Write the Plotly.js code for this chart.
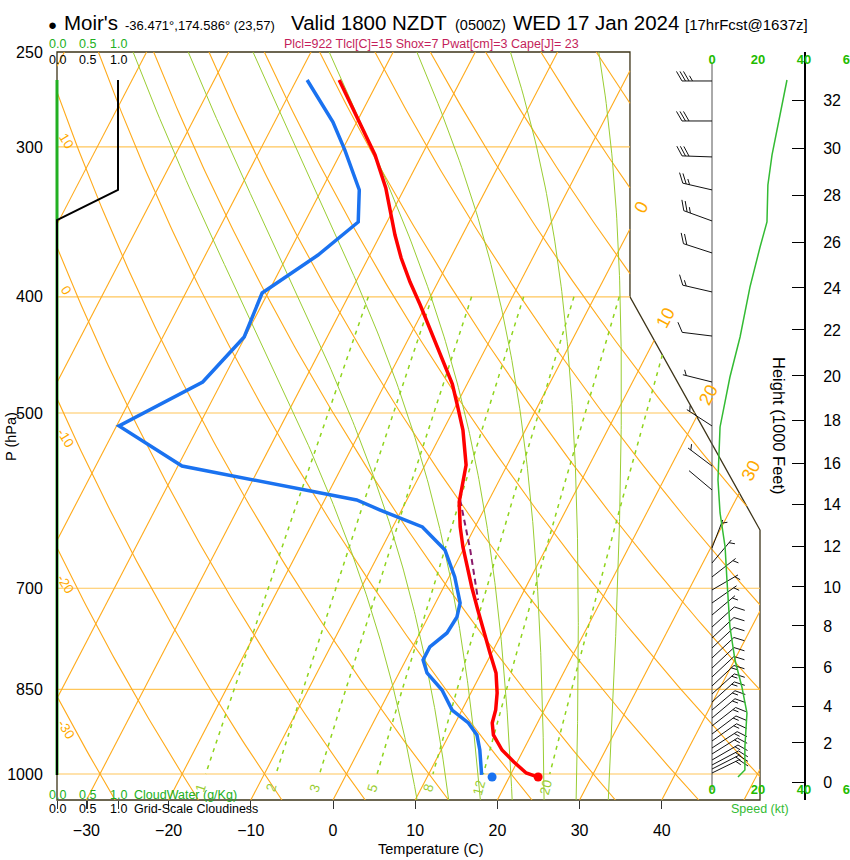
<!DOCTYPE html>
<html><head><meta charset="utf-8">
<script src="https://cdn.plot.ly/plotly-3.0.1.min.js"></script>
<style>html,body{margin:0;padding:0;background:#fff;}#chart{width:850px;height:860px;}</style>
</head><body><div id="chart"></div>
<script>
// ================= DATA =================
const tempP = [263.8,275.7,288.7,304.6,324.6,338.6,355.3,371.3,388.8,406.4,424.7,448.2,472.9,495.2,516.6,552.5,583.0,593.2,622.3,646.7,672.0,698.3,729.9,762.8,792.7,823.7,856.0,884.4,906.7,927.8,955.0,977.2,998.1,1003.8];
const tempT = [-44.8,-42.0,-39.1,-35.7,-32.3,-30.4,-28.2,-26.0,-23.4,-20.7,-18.1,-15.0,-11.8,-9.6,-7.6,-5.0,-3.9,-3.5,-1.8,-0.2,1.6,3.4,5.6,7.8,9.8,11.8,13.2,14.1,14.5,15.4,17.4,19.6,21.8,23.0];
const dewP = [263.8,274.1,286.0,301.7,313.6,325.8,346.5,369.2,397.1,432.1,471.1,512.6,553.6,590.9,602.4,622.3,650.4,685.0,720.1,739.7,762.8,783.6,803.4,823.7,851.0,884.4,906.7,927.8,955.0,1001.9];
const dewT = [-48.7,-45.9,-42.9,-39.7,-37.5,-35.4,-33.5,-36.3,-40.7,-40.1,-42.3,-49.7,-39.5,-16.1,-12.6,-6.4,-2.2,0.7,3.0,3.5,3.3,2.1,2.1,3.4,6.3,8.8,11.6,13.4,14.7,16.5];
const parcelP = [591, 650, 716];
const parcelT = [-3.5, 0.85, 5.0];
const surfaceP = [1005.8];
const surfaceT = [23.5];
const surfaceTd = [17.9];
const speedP = [263.8,304.6,322.7,346.5,363.5,392.6,432.1,466.6,513.6,568.6,605.8,646.7,689.0,720.1,754.1,803.4,846.1,889.5,949.5,992.3,1005.8];
const speedKt = [32.6,26.1,24.3,23.9,20.9,16.5,12.2,7.8,3.5,2.6,3.5,5.7,6.5,7.0,7.8,10.0,13.0,15.2,14.3,14.3,11.3];
const barbP = [264.3,285.4,305.8,325.8,345.8,367.7,396.3,431.3,471.1,512.6,553.6,579.6,647.9,666.9,685.0,702.3,720.1,736.9,754.1,770.2,785.1,800.3,815.9,830.0,844.5,857.6,870.9,884.4,898.1,911.9,926.1,938.6,951.3,962.3,973.5,982.9,990.5,998.1];
const barbDir = [270,270,272,283,290,288,283,277,284,303,307,310,21,40,52,60,55,50,48,47,47,47,47,47,47,48,48,50,50,52,53,55,57,58,60,62,63,64];
const barbSpd = [33,30,28,24,24,20,16,12,7,5,4,2,6,6,6,7,7,7,8,9,9,10,11,12,13,14,14,15,15,15,15,14,14,14,14,14,14,13];
const cloudP = [263.8,325.8,345.2,1001.9];
const cloudFrac = [1.0,1.0,0.0,0.0];
const cloudWaterP = [263.8,1001.9];
const cloudWater = [0,0];
const heightKft = [0,2,4,6,8,10,12,14,16,18,20,22,24,26,28,30,32];
const heightP = [1015.5,942.2,877.6,814.3,752.6,698.3,645.5,595.5,550.4,506.8,465.7,426.3,393.3,360.1,329.0,300.6,274.6];
const pressureTicks = [250,300,400,500,700,850,1000];
const isobarVals = [300,400,500,700,850,1000];
const tempTicks = [-30,-20,-10,0,10,20,30,40];
const speedTicks = [0,20,40,60];
const cloudTicks = [0,0.5,1.0];
const cloudTickText = ['0.0','0.5','1.0'];
const isothermVals = [-80,-70,-60,-50,-40,-30,-20,-10,0,10,20,30,40,50];
const isothermLabelVals = [0,10,20,30];
const dryAdiabatVals = [-30,-20,-10,0,10,20,30,40,50,60,70,80,90,100,110,120];
const dryLabelVals = [-30,-20,-10,0,10];
const moistAdiabatVals = [8,12,16,20,24,28,32];
const mixingVals = [1,2,3,5,8,12,20];

// ================= GEOMETRY =================
const W=850,H=860,ML=40,MR=0,MT=52,MB=60;
const PW=W-ML-MR, PH=H-MT-MB;
const PX_LEFT=57, PX_RIGHT=760;
const X_MIN=-33.58, X_MAX=51.95;
const P_TOP=250, P_BOT=1051.2;
const SKEW=32.95;
const LOG_SPAN=Math.log10(P_BOT)-Math.log10(P_TOP);
const PX_PER_DEC=PH/LOG_SPAN;
const PX_PER_C=(PX_RIGHT-PX_LEFT)/(X_MAX-X_MIN);
const SPD_ZERO_PX=712, SPD_PX_PER_KT=2.3, SPD_DOM_LEFT=650;
const CLOUD_ZERO_PX=57, CLOUD_PX_PER_UNIT=61, CLOUD_DOM_RIGHT=200;
const HEIGHT_AXIS_PX=805;
const frameP=[P_TOP,400,626,P_BOT];
const frameX=[36.13,36.13,X_MAX,X_MAX];

const pxX=x=>PX_LEFT+(x-X_MIN)*PX_PER_C;
const pxY=p=>MT+(Math.log10(p)-Math.log10(P_TOP))*PX_PER_DEC;
const xFromPx=px=>X_MIN+(px-PX_LEFT)/PX_PER_C;
const pFromPy=py=>Math.pow(10,Math.log10(P_TOP)+(py-MT)/PX_PER_DEC);
const paperX=px=>(px-ML)/PW;
const paperY=py=>(MT+PH-py)/PH;
const skewX=(T,p)=>T+SKEW*Math.log(P_BOT/p);

const frameYs=frameP.map(pxY), frameXs=frameX.map(pxX);
function rightPx(py){
  for(let i=0;i<frameYs.length-1;i++){
    if(py<=frameYs[i+1]){const f=(py-frameYs[i])/(frameYs[i+1]-frameYs[i]);return frameXs[i]+f*(frameXs[i+1]-frameXs[i]);}
  }
  return frameXs[frameXs.length-1];
}
function inside(px,py){return py>=MT-0.01&&py<=MT+PH+0.01&&px>=PX_LEFT-0.01&&px<=rightPx(py)+0.01;}
function clip(pts){
  const out=[];let prev=null,prevIn=false;
  for(const a of pts){
    const ain=inside(a[0],a[1]);
    if(prev&&ain!==prevIn){
      let lo=0,hi=1;
      for(let k=0;k<40;k++){const m=(lo+hi)/2;const q=[prev[0]+(a[0]-prev[0])*m,prev[1]+(a[1]-prev[1])*m];if(inside(q[0],q[1])===prevIn)lo=m;else hi=m;}
      const m=prevIn?lo:hi;
      out.push([prev[0]+(a[0]-prev[0])*m,prev[1]+(a[1]-prev[1])*m]);
      if(!ain)out.push(null);
    }
    if(ain)out.push(a);
    prev=a;prevIn=ain;
  }
  if(out.length&&out[out.length-1]!==null)out.push(null);
  return out;
}
function linesTrace(list,style){
  const xs=[],ys=[];
  for(const pts of list){for(const q of clip(pts)){if(q===null){xs.push(null);ys.push(null);}else{xs.push(xFromPx(q[0]));ys.push(pFromPy(q[1]));}}}
  return {type:'scatter',mode:'lines',x:xs,y:ys,xaxis:'x',yaxis:'y',line:style,hoverinfo:'skip',connectgaps:false};
}
function logSpace(a,b,n){const r=[];for(let i=0;i<=n;i++)r.push(Math.pow(10,Math.log10(a)+(Math.log10(b)-Math.log10(a))*i/n));return r;}

// thermodynamics for background reference lines
const dryT=(thC,p)=>(thC+273.15)*Math.pow(p/1000,0.2857)-273.15;
function mixT(w,p){const e=w*p/(622+w);const l=Math.log(e/6.112);return 243.5*l/(17.67-l);}
function dTdp(p,Tk){const Tc=Tk-273.15;const es=6.112*Math.exp(17.67*Tc/(Tc+243.5));const rs=0.622*es/(p-es);
  const Lv=2.501e6,Rd=287.04,Cp=1005.7,eps=0.622;return (Rd*Tk+Lv*rs)/(Cp+Lv*Lv*rs*eps/(Rd*Tk*Tk))/p;}
function rk4(p,T,h){const k1=dTdp(p,T),k2=dTdp(p+h/2,T+h/2*k1),k3=dTdp(p+h/2,T+h/2*k2),k4=dTdp(p+h,T+h*k3);return T+h/6*(k1+2*k2+2*k3+k4);}
function moistPts(thw){
  const up=[],down=[];let p=1000,T=thw+273.15;up.push([p,T]);
  while(p>P_TOP+1e-9){const h=Math.max(-4,P_TOP-p);T=rk4(p,T,h);p+=h;up.push([p,T]);}
  p=1000;T=thw+273.15;
  while(p<P_BOT-1e-9){const h=Math.min(4,P_BOT-p);T=rk4(p,T,h);p+=h;down.push([p,T]);}
  return up.reverse().concat(down).map(([pp,TT])=>[pxX(skewX(TT-273.15,pp)),pxY(pp)]);
}

const ORANGE='#ffaa1a', ISOBAR='#ffc65a', MOIST='#9acd32', MIXC='#8fd41c';
const traces=[];
traces.push(linesTrace(isobarVals.map(p=>[[PX_LEFT,pxY(p)],[rightPx(pxY(p)),pxY(p)]]),{color:ISOBAR,width:1.2}));
traces.push(linesTrace(isothermVals.map(T=>logSpace(P_TOP,P_BOT,40).map(p=>[pxX(skewX(T,p)),pxY(p)])),{color:ORANGE,width:1.1}));
traces.push(linesTrace(dryAdiabatVals.map(th=>logSpace(P_TOP,P_BOT,150).map(p=>[pxX(skewX(dryT(th,p),p)),pxY(p)])),{color:ORANGE,width:1.1}));
traces.push(linesTrace(moistAdiabatVals.map(moistPts),{color:MOIST,width:1}));
traces.push(linesTrace(mixingVals.map(w=>logSpace(400,1000,40).map(p=>[pxX(skewX(mixT(w,p),p)),pxY(p)])),{color:MIXC,width:1.5,dash:'4px,5px'}));

// cloud profiles
traces.push({type:'scatter',mode:'lines',x:cloudWater,y:cloudWaterP,xaxis:'x3',yaxis:'y',line:{color:'#22b022',width:3},hoverinfo:'skip'});
traces.push({type:'scatter',mode:'lines',x:cloudFrac,y:cloudP,xaxis:'x3',yaxis:'y',line:{color:'#000',width:2},hoverinfo:'skip'});

// wind speed axis line, barbs, speed profile
traces.push({type:'scatter',mode:'lines',x:[0,0],y:[pFromPy(63),pFromPy(790)],xaxis:'x2',yaxis:'y',line:{color:'#555',width:1},hoverinfo:'skip'});
(function(){
  const xs=[],ys=[];const L=30,FULL=11,HALF=6,SP=3.5;
  const c=Math.cos(Math.PI/3),s=Math.sin(Math.PI/3);
  const seg=(x0,u0,x1,u1,p)=>{xs.push(x0/SPD_PX_PER_KT,x1/SPD_PX_PER_KT,null);ys.push(p*Math.pow(10,-u0/PX_PER_DEC),p*Math.pow(10,-u1/PX_PER_DEC),null);};
  barbP.forEach((p,i)=>{
    const d=barbDir[i]*Math.PI/180,ux=Math.sin(d),uy=Math.cos(d);
    const tx=ux*c+uy*s,ty=-ux*s+uy*c;
    seg(0,0,L*ux,L*uy,p);
    const r=Math.round(barbSpd[i]/5)*5;const full=Math.floor(r/10);const half=(r%10)===5;
    let pos=L;
    for(let k=0;k<full;k++){seg(pos*ux,pos*uy,pos*ux+FULL*tx,pos*uy+FULL*ty,p);pos-=SP;}
    if(half){if(full===0)pos=L-SP;seg(pos*ux,pos*uy,pos*ux+HALF*tx,pos*uy+HALF*ty,p);}
  });
  traces.push({type:'scatter',mode:'lines',x:xs,y:ys,xaxis:'x2',yaxis:'y',line:{color:'#111',width:1},hoverinfo:'skip',connectgaps:false});
})();
traces.push({type:'scatter',mode:'lines',x:speedKt,y:speedP,xaxis:'x2',yaxis:'y',line:{color:'#33bb33',width:1.5},hoverinfo:'skip'});

// sounding
traces.push({type:'scatter',mode:'lines',x:parcelT.map((t,i)=>skewX(t,parcelP[i])),y:parcelP,line:{color:'#8a1a6a',width:2,dash:'6px,4px'},hoverinfo:'skip'});
traces.push({type:'scatter',mode:'lines',x:dewT.map((t,i)=>skewX(t,dewP[i])),y:dewP,line:{color:'#1a72f0',width:3.5},hoverinfo:'skip'});
traces.push({type:'scatter',mode:'lines',x:tempT.map((t,i)=>skewX(t,tempP[i])),y:tempP,line:{color:'#f00',width:3.5},hoverinfo:'skip'});
traces.push({type:'scatter',mode:'markers',x:surfaceT.map((t,i)=>skewX(t,surfaceP[i])),y:surfaceP,marker:{color:'#f00',size:9},hoverinfo:'skip'});
traces.push({type:'scatter',mode:'markers',x:surfaceTd.map((t,i)=>skewX(t,surfaceP[i])),y:surfaceP,marker:{color:'#1a72f0',size:9},hoverinfo:'skip'});
// helpers so the auxiliary axes render
traces.push({type:'scatter',mode:'markers',x:[X_MIN],y:[500],xaxis:'x',yaxis:'y2',marker:{opacity:0},hoverinfo:'skip'});
traces.push({type:'scatter',mode:'markers',x:[0],y:[500],xaxis:'x4',yaxis:'y',marker:{opacity:0},hoverinfo:'skip'});

// ================= ANNOTATIONS =================
const FONT='"Liberation Sans", Arial, Helvetica, sans-serif';
const ann=[];
const A=(o)=>ann.push(Object.assign({showarrow:false,xref:'paper',yref:'paper',borderpad:0},o));
const titleParts=[["\u25CF",47,15],["Moir's",63,20.5],["-36.471°,174.586° (23,57)",124,13],["Valid 1800 NZDT",290,20.5],["(0500Z)",454,14.5],["WED 17 Jan 2024",512,20.5],["[17hrFcst@1637z]",684,15]];
titleParts.forEach(([t,x,s])=>A({text:t,x:paperX(x),y:paperY(31+0.212*s),xanchor:'left',yanchor:'bottom',font:{size:s,color:'#000',family:FONT}}));
A({text:'Plcl=922 Tlcl[C]=15 Shox=7 Pwat[cm]=3 Cape[J]= 23',x:paperX(431),y:paperY(44),xanchor:'center',yanchor:'middle',font:{size:12.5,color:'#c41f5b',family:FONT}});
// cloud scale labels
cloudTicks.forEach((v,i)=>{
  [[44,'#22b022'],[60,'#000'],[795,'#22b022'],[809,'#000']].forEach(([py,col])=>A({text:cloudTickText[i],xref:'x3',x:v,y:paperY(py),xanchor:'center',yanchor:'middle',font:{size:12.5,color:col,family:FONT}}));
});
A({text:'CloudWater (g/Kg)',x:paperX(133),y:paperY(795),xanchor:'left',yanchor:'middle',font:{size:12.5,color:'#22b022',family:FONT}});
A({text:'Grid-Scale Cloudiness',x:paperX(133),y:paperY(809),xanchor:'left',yanchor:'middle',font:{size:12.5,color:'#000',family:FONT}});
A({text:'Speed (kt)',x:paperX(760),y:paperY(809),xanchor:'center',yanchor:'middle',font:{size:12.5,color:'#33bb33',family:FONT}});
A({text:'Temperature (C)',x:paperX(431),y:paperY(849),xanchor:'center',yanchor:'middle',font:{size:14.5,color:'#000',family:FONT}});
A({text:'P (hPa)',x:paperX(11),y:paperY(437),xanchor:'center',yanchor:'middle',textangle:-90,font:{size:14.5,color:'#000',family:FONT}});
A({text:'Height (1000 Feet)',x:paperX(779),y:paperY(426),xanchor:'center',yanchor:'middle',textangle:90,font:{size:16.5,color:'#000',family:FONT}});
// isotherm labels at right boundary
isothermLabelVals.forEach(T=>{
  const f=py=>pxX(skewX(T,pFromPy(py)))-rightPx(py);
  let lo=MT,hi=MT+PH;
  for(let k=0;k<50;k++){const m=(lo+hi)/2;if(f(m)>0)lo=m;else hi=m;}
  const py=(lo+hi)/2-22, px=pxX(skewX(T,pFromPy(py)));
  A({text:String(T),x:paperX(px),y:paperY(py),xanchor:'center',yanchor:'middle',textangle:-62,font:{size:18,color:'#ffaa00',family:FONT}});
});
// dry adiabat labels at left edge
dryLabelVals.forEach(th=>{
  const g=py=>pxX(skewX(dryT(th,pFromPy(py)),pFromPy(py)))-75;
  let lo=MT,hi=MT+PH;
  if(g(lo)>0)return;
  for(let k=0;k<50;k++){const m=(lo+hi)/2;if(g(m)<0)lo=m;else hi=m;}
  const py=(lo+hi)/2;
  A({text:String(th),x:paperX(66),y:paperY(py),xanchor:'center',yanchor:'middle',textangle:58,font:{size:13.5,color:'#ffaa00',family:FONT}});
});
// mixing ratio labels
mixingVals.forEach(w=>{
  const p=1027,px=pxX(skewX(mixT(w,p),p)),py=pxY(p);
  const px2=pxX(skewX(mixT(w,800),800)),py2=pxY(800);
  const ang=Math.atan2(py2-py,px2-px)*180/Math.PI;
  A({text:String(w),x:paperX(px),y:paperY(py),xanchor:'center',yanchor:'middle',textangle:ang,font:{size:13.5,color:'#9acd32',family:FONT}});
});

// frame outline
const fpts=[[PX_LEFT,MT]].concat(frameXs.map((x,i)=>[x,frameYs[i]])).concat([[PX_LEFT,MT+PH]]);
const path='M'+fpts.map(q=>paperX(q[0]).toFixed(5)+','+paperY(q[1]).toFixed(5)).join(' L')+' Z';

const spdAxis={domain:[paperX(SPD_DOM_LEFT),1],range:[(SPD_DOM_LEFT-SPD_ZERO_PX)/SPD_PX_PER_KT,(W-SPD_ZERO_PX)/SPD_PX_PER_KT],anchor:'y',tickmode:'array',tickvals:speedTicks,ticks:'',ticklabelposition:'inside',ticklabeloverflow:'allow',tickfont:{size:13,color:'#22bb00',family:FONT,weight:'bold'},showgrid:false,zeroline:false,showline:false};
const layout={
  width:W,height:H,margin:{l:ML,r:MR,t:MT,b:MB,pad:0},paper_bgcolor:'#fff',plot_bgcolor:'rgba(0,0,0,0)',showlegend:false,
  font:{family:FONT,color:'#000'},
  xaxis:{domain:[paperX(PX_LEFT),paperX(PX_RIGHT)],range:[X_MIN,X_MAX],anchor:'y',tickmode:'array',tickvals:tempTicks,ticks:'outside',ticklen:8,tickcolor:'#333',tickfont:{size:16},ticklabelstandoff:8,showgrid:false,zeroline:false,showline:false},
  yaxis:{domain:[0,1],type:'log',range:[Math.log10(P_BOT),Math.log10(P_TOP)],anchor:'x',tickmode:'array',tickvals:pressureTicks,ticktext:pressureTicks.map(String),ticks:'outside',ticklen:10,tickcolor:'rgba(0,0,0,0)',tickfont:{size:16},showgrid:false,zeroline:false,showline:false},
  xaxis2:Object.assign({},spdAxis,{side:'bottom'}),
  xaxis4:Object.assign({},spdAxis,{side:'top'}),
  xaxis3:{domain:[0,paperX(CLOUD_DOM_RIGHT)],range:[(ML-CLOUD_ZERO_PX)/CLOUD_PX_PER_UNIT,(CLOUD_DOM_RIGHT-CLOUD_ZERO_PX)/CLOUD_PX_PER_UNIT],anchor:'y',tickmode:'array',tickvals:cloudTicks,ticks:'outside',ticklen:8,tickcolor:'#333',showticklabels:false,showgrid:false,zeroline:false,showline:false},
  yaxis2:{type:'log',range:[Math.log10(P_BOT),Math.log10(P_TOP)],overlaying:'y',anchor:'free',position:paperX(HEIGHT_AXIS_PX),side:'right',tickmode:'array',tickvals:heightP,ticktext:heightKft.map(String),ticks:'inside',ticklen:12,tickcolor:'#000',showline:true,linewidth:2,linecolor:'#000',tickfont:{size:16},ticklabelstandoff:14,showgrid:false,zeroline:false},
  shapes:[{type:'path',xref:'paper',yref:'paper',path:path,line:{color:'#3d3418',width:1.3},fillcolor:'rgba(0,0,0,0)',layer:'below'}],
  annotations:ann
};
Plotly.newPlot('chart',traces,layout,{staticPlot:true,displayModeBar:false});
</script></body></html>
